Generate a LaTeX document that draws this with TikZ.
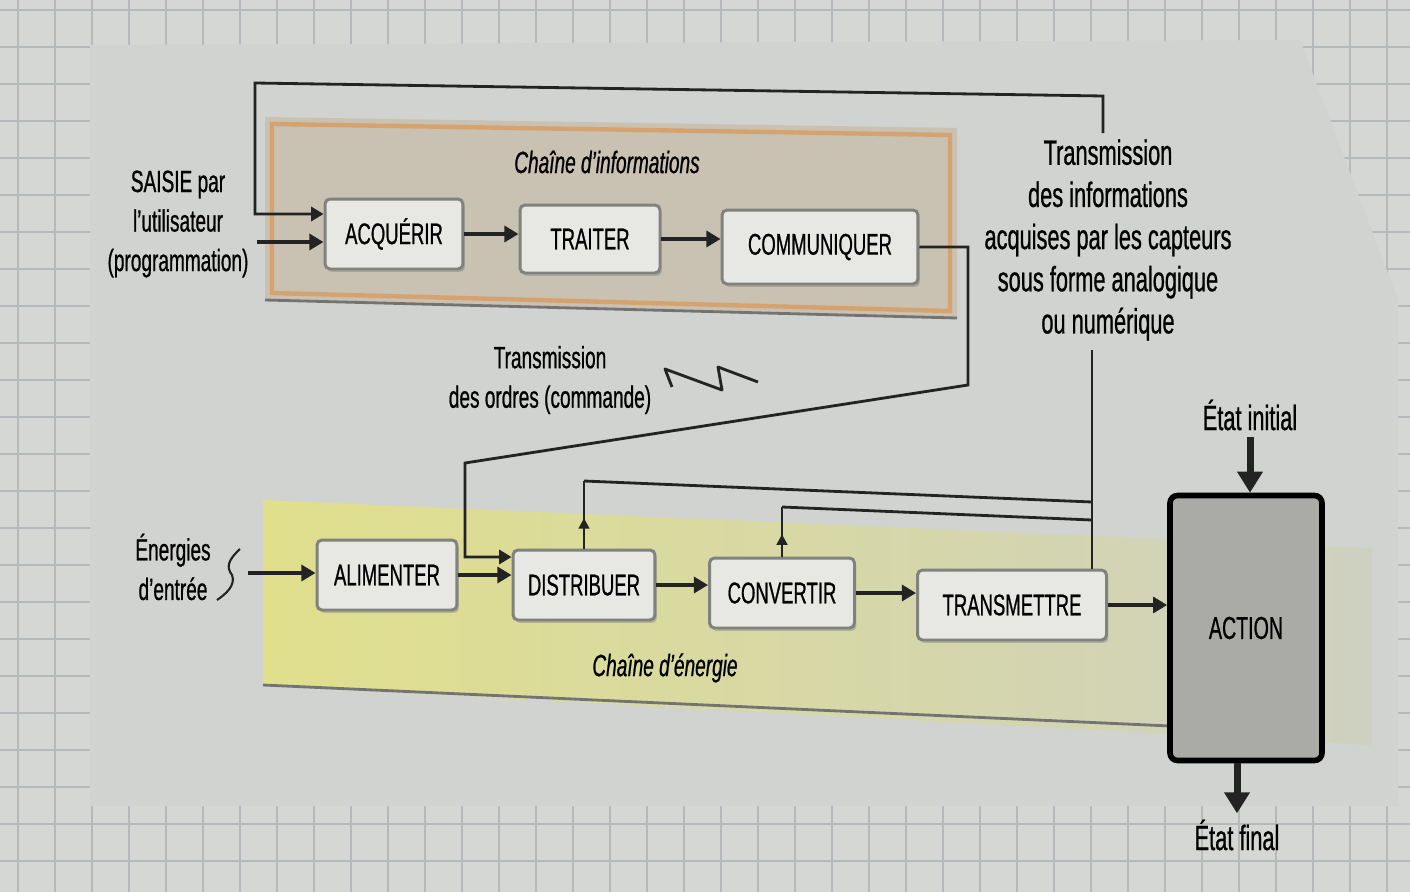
\documentclass[tikz,border=0pt]{standalone}
\usepackage{fontspec}
\setmainfont{Liberation Sans}[FakeStretch=0.62, FakeBold=0.7]
\usetikzlibrary{positioning,arrows.meta,shadows,decorations.markings}
\definecolor{paperColor}{RGB}{213,215,212}
\definecolor{gridColor}{RGB}{182,185,187}
\definecolor{sheetColor}{RGB}{208,211,207}
\definecolor{infoColor}{RGB}{201,193,177}
\definecolor{infoEdge}{RGB}{214,163,112}
\definecolor{energyColor}{RGB}{224,223,140}
\definecolor{energyFade}{RGB}{206,209,192}
\definecolor{boxFill}{RGB}{231,232,228}
\definecolor{boxEdge}{RGB}{128,130,126}
\definecolor{actionFill}{RGB}{170,170,167}
\definecolor{lineColor}{RGB}{35,35,35}
\tikzstyle{sheet} = [x=0.02cm, y=-0.02cm]
\tikzstyle{blockStyle} = [draw=boxEdge, fill=boxFill, line width=1.7pt, rounded corners=.1cm, minimum height=1.4cm, font=\fontsize{17}{20}\selectfont, drop shadow={shadow xshift=.04cm, shadow yshift=-.06cm, fill=black!45}]
\tikzstyle{actionStyle} = [draw=black, fill=actionFill, line width=3.2pt, rounded corners=.15cm, minimum width=3.04cm, minimum height=5.3cm, font=\fontsize{18}{20}\selectfont]
\tikzstyle{labelText} = [align=center, font=\fontsize{17.5}{22.5}\selectfont]
\tikzstyle{bigText} = [align=center, font=\fontsize{20}{24}\selectfont]
\tikzstyle{chainText} = [font=\itshape\fontsize{17.5}{20}\selectfont]
\tikzstyle{flowArrow} = [draw=lineColor, line width=2.6pt, -{Triangle[length=8pt,width=9pt]}]
\tikzstyle{orderLine} = [draw=lineColor, line width=1.6pt]
\tikzstyle{orderArrow} = [orderLine, -{Triangle[length=7pt,width=8pt]}]
\tikzstyle{stateArrow} = [draw=lineColor, line width=4pt, -{Triangle[length=12pt,width=14pt]}]
\tikzstyle{upTip} = [postaction={decorate}, decoration={markings, mark=at position .45 with {\arrow{Triangle[length=6pt,width=6pt]}}}]
\begin{document}
\begin{tikzpicture}[sheet]
\useasboundingbox (0,0) rectangle (1410,892);
% grid paper and printed sheet
\fill[paperColor] (0,0) rectangle (1410,892);
\foreach \gx in {18,55,...,1410} {\draw[gridColor, line width=.8pt] (\gx,0) -- (\gx,892);}
\foreach \gy in {10,47,...,892} {\draw[gridColor, line width=.8pt] (0,\gy) -- (1410,\gy);}
\fill[sheetColor] (90,45) -- (1300,40) -- (1398,300) -- (1398,806) -- (90,806) -- cycle;
% bands
\fill[infoColor] (265,117) -- (957,128) -- (957,318) -- (265,300) -- cycle;
\draw[infoEdge, line width=2.5pt] (272,124) -- (950,135) -- (950,311) -- (272,293) -- cycle;
\draw[black!55, line width=1.6pt] (265,300) -- (957,318);
\shade[left color=energyColor, right color=energyFade] (263,500) -- (1372,548) -- (1372,745) -- (263,685) -- cycle;
\draw[black!55, line width=1.6pt] (263,685) -- (1170,726);
\node[chainText] (infoChain) at (607,162) {Chaîne d'informations};
\node[chainText] (energyChain) at (665,668) {Chaîne d'énergie};
% blocks
\node[blockStyle, minimum width=2.76cm] (acq) at (394,234) {ACQUÉRIR};
\node[blockStyle, minimum width=2.8cm, minimum height=1.36cm] (trait) at (590,239) {TRAITER};
\node[blockStyle, minimum width=3.92cm, minimum height=1.48cm] (comm) at (820,247) {COMMUNIQUER};
\node[blockStyle, minimum width=2.8cm] (alim) at (387,575) {ALIMENTER};
\node[blockStyle, minimum width=2.84cm] (distr) at (584,585) {DISTRIBUER};
\node[blockStyle, minimum width=2.9cm] (conv) at (782,593) {CONVERTIR};
\node[blockStyle, minimum width=3.78cm] (transm) at (1012,605) {TRANSMETTRE};
\node[actionStyle] (action) at (1246,628) {ACTION};
% texts
\node[labelText] (saisie) at (178,224) {SAISIE par\\l'utilisateur\\(programmation)};
\node[bigText] (infoTxt) at (1108,240) {Transmission\\des informations\\acquises par les capteurs\\sous forme analogique\\ou numérique};
\node[labelText] (ordres) at (550,380) {Transmission\\des ordres (commande)};
\node[labelText] (energies) at (173,567) {Énergies\\d'entrée};
\node[bigText] (etatI) at (1250,415) {État initial};
\node[bigText] (etatF) at (1237,835) {État final};
% chains
\draw[flowArrow] (acq.east) -- (acq.east -| trait.west);
\draw[flowArrow] (trait.east) -- (trait.east -| comm.west);
\draw[flowArrow] (alim.east) -- (alim.east -| distr.west);
\draw[flowArrow] (distr.east) -- (distr.east -| conv.west);
\draw[flowArrow] (conv.east) -- (conv.east -| transm.west);
\draw[flowArrow] (transm.east) -- (transm.east -| action.west);
\coordinate (enOut) at (248,573);
\draw[flowArrow] (enOut) -- (enOut -| alim.west);
\coordinate (saisieOut) at (257,242);
\draw[flowArrow] (saisieOut) -- (saisieOut -| acq.west);
% sensor information back to acquire
\coordinate (topR) at (1103,96);
\coordinate (topL) at (255,83);
\coordinate (acqIn) at (255,214);
\draw[orderArrow] (topR |- infoTxt.north) -- (topR) -- (topL) -- (acqIn) -- (acqIn -| acq.west);
\coordinate (sensB) at (1092,350);
\draw[orderLine] (sensB) -- (sensB |- transm.north);
\coordinate (disTurn) at (584,481);
\coordinate (disJoin) at (1092,502);
\draw[orderLine, upTip] (distr.north) -- (disTurn);
\draw[orderLine] (disTurn) -- (disJoin);
\coordinate (conTurn) at (782,507);
\coordinate (conJoin) at (1092,520);
\draw[orderLine, upTip] (conv.north) -- (conTurn);
\draw[orderLine] (conTurn) -- (conJoin);
% orders
\coordinate (cmdTurn) at (968,385);
\coordinate (cmdDrop) at (465,463);
\coordinate (cmdIn) at (465,557);
\draw[orderArrow] (comm.east) -| (cmdTurn) -- (cmdDrop) -- (cmdIn) -- (cmdIn -| distr.west);
\draw[orderLine, line join=round] (672,387) -- (665,369) -- (722,390) -- (718,367) -- (758,382);
\draw[orderLine, line width=1.2pt] (240,549) .. controls (228,560) and (226,567) .. (232,575) .. controls (236,585) and (226,594) .. (217,600);
% action states
\draw[stateArrow] (etatI.south) -- (etatI.south |- action.north);
\draw[stateArrow] (action.south -| etatF) -- (etatF.north);
\end{tikzpicture}
\end{document}
